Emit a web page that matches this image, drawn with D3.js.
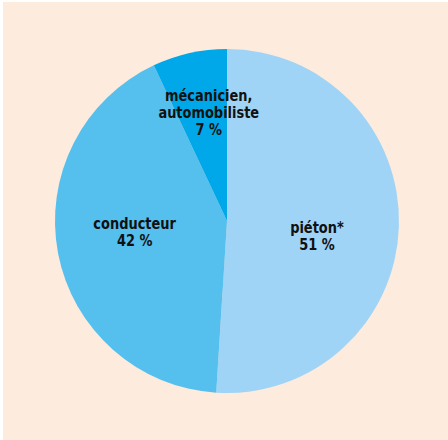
<!DOCTYPE html>
<html><head><meta charset="utf-8">
<script src="https://cdn.jsdelivr.net/npm/d3@7"></script>
<style>html,body{margin:0;padding:0;background:#fff;}</style>
</head><body>
<svg id="c" width="448" height="440"></svg>
<script>
const categories = ["piéton*", "conducteur", "mécanicien, automobiliste"];
const labelLines = [["piéton*", "51 %"], ["conducteur", "42 %"], ["mécanicien,", "automobiliste", "7 %"]];
const values = [51, 42, 7];
const colors = ["#9fd4f6", "#55bfee", "#00a8e9"];

const svg = d3.select("#c");
svg.append("rect").attr("x", 3).attr("y", 2).attr("width", 445).attr("height", 438).attr("fill", "#fdebde");

const cx = 227, cy = 221, r = 172;
const g = svg.append("g").attr("transform", `translate(${cx},${cy})`);
const pie = d3.pie().sort(null).value(d => d);
const arcs = pie(values);
const arc = d3.arc().innerRadius(0).outerRadius(r);
g.selectAll("path").data(arcs).join("path")
  .attr("d", arc).attr("fill", (d, i) => colors[i]);

// label placement: centroid radius + small nudges
const labelR = [90, 94, 111];
const nudge = [[0, 12.5], [0, -6.3], [6, 0]];
const lh = 17, fs = 15.5;
arcs.forEach((a, i) => {
  const la = d3.arc().innerRadius(labelR[i] * 2).outerRadius(0);
  const [x0, y0] = la.centroid(a);
  const x = x0 + nudge[i][0], y = y0 + nudge[i][1];
  const lines = labelLines[i];
  lines.forEach((l, j) => {
    const by = y + (j - (lines.length - 1) / 2) * lh + 5.5;
    g.append("text")
      .attr("transform", `translate(${x},${by}) scale(0.93,1)`)
      .attr("text-anchor", "middle")
      .attr("font-family", "'DejaVu Sans Condensed', 'DejaVu Sans', sans-serif")
      .attr("font-stretch", "condensed")
      .attr("font-weight", "bold")
      .attr("font-size", fs)
      .attr("fill", "#111")
      .text(l);
  });
});
</script>
</body></html>
